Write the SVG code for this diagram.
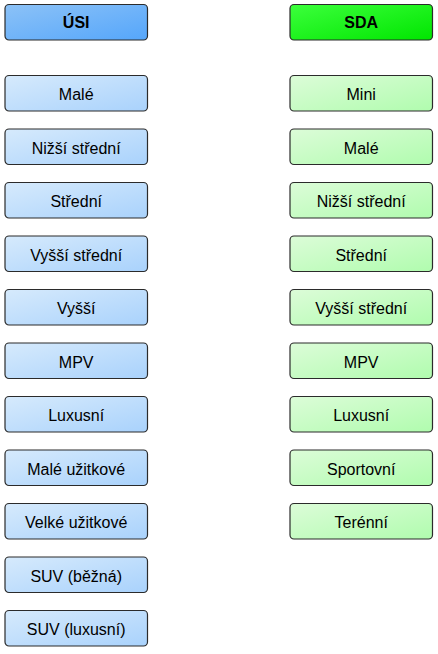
<svg xmlns="http://www.w3.org/2000/svg" width="438" height="654" viewBox="0 0 438 654">
<defs>
<linearGradient id="gHB" x1="0" y1="0" x2="1" y2="1"><stop offset="0" stop-color="#8cc2f7"/><stop offset="1" stop-color="#55a6fb"/></linearGradient>
<linearGradient id="gB" x1="0" y1="0" x2="1" y2="1"><stop offset="0" stop-color="#d6eafc"/><stop offset="1" stop-color="#a9d2fc"/></linearGradient>
<linearGradient id="gHG" x1="0" y1="0" x2="1" y2="1"><stop offset="0" stop-color="#3cff3c"/><stop offset="1" stop-color="#00e600"/></linearGradient>
<linearGradient id="gG" x1="0" y1="0" x2="1" y2="1"><stop offset="0" stop-color="#dcfcd8"/><stop offset="1" stop-color="#b0fcae"/></linearGradient>
</defs>
<style>
rect{stroke:#2b2b2b;stroke-width:1.2}
.hb{fill:url(#gHB)}.b{fill:url(#gB)}.hg{fill:url(#gHG)}.g{fill:url(#gG)}
text{font-family:"Liberation Sans",Arial,sans-serif;font-size:16px;text-anchor:middle;fill:#000}
.h{font-weight:bold}
</style>
<g id="left">
<g id="usi"><rect class="hb" x="5" y="4.5" width="142.5" height="35.5" rx="4"/><text class="h" x="76.2" y="28">ÚSI</text></g>
<g id="l1"><rect class="b" x="5" y="75.5" width="142.5" height="35.5" rx="4"/><text x="76.2" y="100">Malé</text></g>
<g id="l2"><rect class="b" x="5" y="129" width="142.5" height="35.5" rx="4"/><text x="76.2" y="153.5">Nižší střední</text></g>
<g id="l3"><rect class="b" x="5" y="182.5" width="142.5" height="35.5" rx="4"/><text x="76.2" y="207">Střední</text></g>
<g id="l4"><rect class="b" x="5" y="236" width="142.5" height="35.5" rx="4"/><text x="76.2" y="260.5">Vyšší střední</text></g>
<g id="l5"><rect class="b" x="5" y="289.5" width="142.5" height="35.5" rx="4"/><text x="76.2" y="314">Vyšší</text></g>
<g id="l6"><rect class="b" x="5" y="343" width="142.5" height="35.5" rx="4"/><text x="76.2" y="367.5">MPV</text></g>
<g id="l7"><rect class="b" x="5" y="396.5" width="142.5" height="35.5" rx="4"/><text x="76.2" y="421">Luxusní</text></g>
<g id="l8"><rect class="b" x="5" y="450" width="142.5" height="35.5" rx="4"/><text x="76.2" y="474.5">Malé užitkové</text></g>
<g id="l9"><rect class="b" x="5" y="503.5" width="142.5" height="35.5" rx="4"/><text x="76.2" y="528">Velké užitkové</text></g>
<g id="l10"><rect class="b" x="5" y="557" width="142.5" height="35.5" rx="4"/><text x="76.2" y="581.5">SUV (běžná)</text></g>
<g id="l11"><rect class="b" x="5" y="610.5" width="142.5" height="35.5" rx="4"/><text x="76.2" y="635">SUV (luxusní)</text></g>
</g>
<g id="right">
<g id="sda"><rect class="hg" x="290" y="4.5" width="142.5" height="35.5" rx="4"/><text class="h" x="361.2" y="28">SDA</text></g>
<g id="r1"><rect class="g" x="290" y="75.5" width="142.5" height="35.5" rx="4"/><text x="361.2" y="100">Mini</text></g>
<g id="r2"><rect class="g" x="290" y="129" width="142.5" height="35.5" rx="4"/><text x="361.2" y="153.5">Malé</text></g>
<g id="r3"><rect class="g" x="290" y="182.5" width="142.5" height="35.5" rx="4"/><text x="361.2" y="207">Nižší střední</text></g>
<g id="r4"><rect class="g" x="290" y="236" width="142.5" height="35.5" rx="4"/><text x="361.2" y="260.5">Střední</text></g>
<g id="r5"><rect class="g" x="290" y="289.5" width="142.5" height="35.5" rx="4"/><text x="361.2" y="314">Vyšší střední</text></g>
<g id="r6"><rect class="g" x="290" y="343" width="142.5" height="35.5" rx="4"/><text x="361.2" y="367.5">MPV</text></g>
<g id="r7"><rect class="g" x="290" y="396.5" width="142.5" height="35.5" rx="4"/><text x="361.2" y="421">Luxusní</text></g>
<g id="r8"><rect class="g" x="290" y="450" width="142.5" height="35.5" rx="4"/><text x="361.2" y="474.5">Sportovní</text></g>
<g id="r9"><rect class="g" x="290" y="503.5" width="142.5" height="35.5" rx="4"/><text x="361.2" y="528">Terénní</text></g>
</g>
<g id="connectors"/>
</svg>
